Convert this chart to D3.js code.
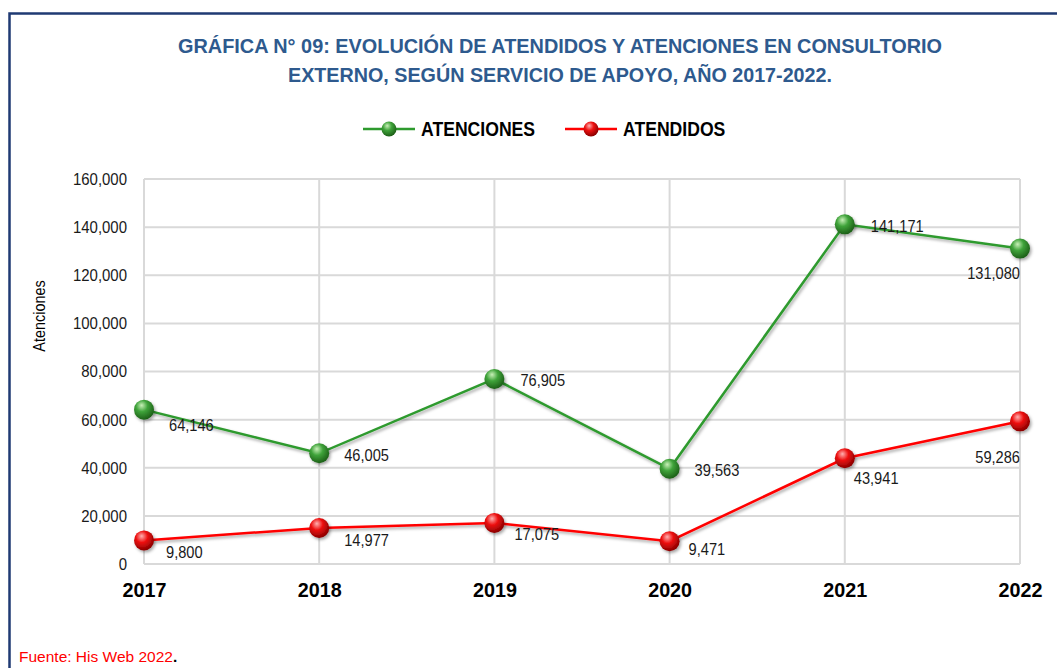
<!DOCTYPE html>
<html>
<head>
<meta charset="utf-8">
<script src="https://cdn.jsdelivr.net/npm/d3@7"></script>
<style>
  body { margin: 0; background: #fff; }
  svg text { font-family: "Liberation Sans Narrow", "Arial Narrow", "Liberation Sans", Arial, sans-serif; }
</style>
</head>
<body>
<div id="chart"></div>
<script>
const WIDTH = 1057;
const HEIGHT = 668;

const years = ["2017", "2018", "2019", "2020", "2021", "2022"];
const atenciones = [64146, 46005, 76905, 39563, 141171, 131080];
const atendidos = [9800, 14977, 17075, 9471, 43941, 59286];
const yTicks = [0, 20000, 40000, 60000, 80000, 100000, 120000, 140000, 160000];

// where each data label sits relative to its point: dx, dy, anchor
const atencionesLabelPos = [[25, 21, "start"], [25, 8, "start"], [26, 7, "start"], [25, 7, "start"], [26, 8, "start"], [0, 30, "end"]];
const atendidosLabelPos = [[22, 18, "start"], [25, 18, "start"], [20, 17, "start"], [19, 14, "start"], [9, 26, "start"], [0, 42, "end"]];

const margin = { top: 179, right: 37, bottom: 104, left: 144 };
const w = WIDTH - margin.left - margin.right;
const h = HEIGHT - margin.top - margin.bottom;

// squeeze text a bit, the original uses a condensed face
function narrow(sel, k) {
    sel.each(function () {
        const len = this.getComputedTextLength();
        d3.select(this).attr("textLength", len * k).attr("lengthAdjust", "spacingAndGlyphs");
    });
}

const svg = d3.select("#chart")
    .append("svg")
    .attr("width", WIDTH)
    .attr("height", HEIGHT);

const defs = svg.append("defs");

function ballGradient(id, light, mid, dark) {
    const g = defs.append("radialGradient")
        .attr("id", id)
        .attr("cx", "40%").attr("cy", "35%").attr("r", "65%")
        .attr("fx", "38%").attr("fy", "28%");
    g.append("stop").attr("offset", "0%").attr("stop-color", light);
    g.append("stop").attr("offset", "45%").attr("stop-color", mid);
    g.append("stop").attr("offset", "100%").attr("stop-color", dark);
}
ballGradient("ballGreen", "#c8f0b8", "#3fa33a", "#1d6018");
ballGradient("ballRed", "#ffb0b0", "#ee1111", "#8a0000");

const shadow = defs.append("filter").attr("id", "shadow")
    .attr("x", "-30%").attr("y", "-30%").attr("width", "160%").attr("height", "160%");
shadow.append("feDropShadow")
    .attr("dx", 1.5).attr("dy", 2).attr("stdDeviation", 1.6)
    .attr("flood-color", "#000").attr("flood-opacity", 0.35);

// frame
svg.append("path")
    .attr("d", "M9.5," + (HEIGHT + 5) + " V13.5 H" + (WIDTH + 5))
    .attr("fill", "none")
    .attr("stroke", "#1f3a73")
    .attr("stroke-width", 2.5);

// title
const title = svg.append("text")
    .attr("text-anchor", "middle")
    .attr("fill", "#2e5a8e")
    .style("font-weight", "bold")
    .style("font-size", "21px");
title.append("tspan").attr("x", 560).attr("y", 53)
    .attr("textLength", 764).attr("lengthAdjust", "spacingAndGlyphs")
    .text("GRÁFICA N° 09: EVOLUCIÓN DE ATENDIDOS Y ATENCIONES EN CONSULTORIO");
title.append("tspan").attr("x", 560).attr("y", 82)
    .attr("textLength", 544).attr("lengthAdjust", "spacingAndGlyphs")
    .text("EXTERNO, SEGÚN SERVICIO DE APOYO, AÑO 2017-2022.");

const g = svg.append("g")
    .attr("transform", "translate(" + margin.left + "," + margin.top + ")");

const x = d3.scalePoint().domain(years).range([0, w]);
const y = d3.scaleLinear().domain([0, 160000]).range([h, 0]);

// grid
g.append("g").selectAll("line")
    .data(yTicks)
    .enter().append("line")
    .attr("x1", 0).attr("x2", w)
    .attr("y1", d => y(d)).attr("y2", d => y(d))
    .attr("stroke", "#d9d9d9").attr("stroke-width", 2);
g.append("g").selectAll("line")
    .data(years)
    .enter().append("line")
    .attr("x1", d => x(d)).attr("x2", d => x(d))
    .attr("y1", 0).attr("y2", h)
    .attr("stroke", "#d9d9d9").attr("stroke-width", 2);

// y axis
const yAxis = g.append("g")
    .call(d3.axisLeft(y).tickValues(yTicks).tickFormat(d3.format(",")).tickSize(0).tickPadding(17));
yAxis.select(".domain").remove();
yAxis.selectAll("text")
    .attr("fill", "#1a1a1a")
    .style("font-size", "17px")
    .call(narrow, 0.88);

// x axis
const xAxis = g.append("g")
    .attr("transform", "translate(0," + h + ")")
    .call(d3.axisBottom(x).tickSize(0).tickPadding(18));
xAxis.select(".domain").remove();
xAxis.selectAll("text")
    .attr("fill", "#000")
    .style("font-weight", "bold")
    .style("font-size", "21px")
    .call(narrow, 0.94);

svg.append("text")
    .attr("transform", "translate(45,316) rotate(-90)")
    .attr("text-anchor", "middle")
    .attr("fill", "#000")
    .style("font-size", "16px")
    .text("Atenciones")
    .call(narrow, 0.9);

const series = [
    { name: "ATENCIONES", values: atenciones, color: "#2e9a2e", ball: "url(#ballGreen)", labels: atencionesLabelPos },
    { name: "ATENDIDOS", values: atendidos, color: "#ff0000", ball: "url(#ballRed)", labels: atendidosLabelPos }
];

const line = d3.line()
    .x((d, i) => x(years[i]))
    .y(d => y(d));

series.forEach(s => {
    g.append("path")
        .datum(s.values)
        .attr("d", line)
        .attr("fill", "none")
        .attr("stroke", s.color)
        .attr("stroke-width", 2.5)
        .attr("filter", "url(#shadow)");

    g.append("g").selectAll("circle")
        .data(s.values)
        .enter().append("circle")
        .attr("cx", (d, i) => x(years[i]))
        .attr("cy", d => y(d))
        .attr("r", 10)
        .attr("fill", s.ball)
        .attr("filter", "url(#shadow)");

    g.append("g").selectAll("text")
        .data(s.values)
        .enter().append("text")
        .attr("x", (d, i) => x(years[i]) + s.labels[i][0])
        .attr("y", (d, i) => y(d) + s.labels[i][1])
        .attr("text-anchor", (d, i) => s.labels[i][2])
        .attr("fill", "#1a1a1a")
        .style("font-size", "17px")
        .text(d => d3.format(",")(d))
        .call(narrow, 0.86);
});

// legend
const legend = svg.append("g").attr("transform", "translate(363,129)");
const legendX = [0, 202];
series.forEach((s, i) => {
    const lg = legend.append("g").attr("transform", "translate(" + legendX[i] + ",0)");
    lg.append("line")
        .attr("x1", 0).attr("x2", 52)
        .attr("stroke", s.color).attr("stroke-width", 2.5);
    lg.append("circle")
        .attr("cx", 26).attr("r", 7.5)
        .attr("fill", s.ball);
    lg.append("text")
        .attr("x", 58).attr("y", 7)
        .attr("fill", "#000")
        .style("font-weight", "bold")
        .style("font-size", "20px")
        .text(s.name)
        .call(narrow, 0.88);
});

// source
const src = svg.append("text")
    .attr("x", 19).attr("y", 662)
    .style("font-size", "15.5px");
src.append("tspan").attr("fill", "#ff0000").text("Fuente: His Web 2022");
src.append("tspan").attr("fill", "#000").style("font-weight", "bold").text(".");
</script>
</body>
</html>
